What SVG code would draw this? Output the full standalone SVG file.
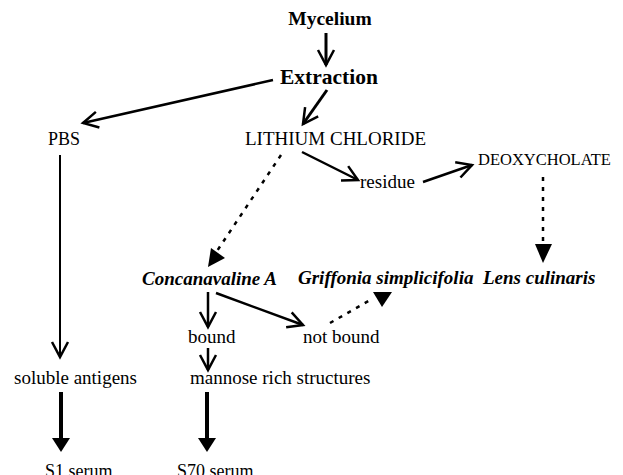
<svg xmlns="http://www.w3.org/2000/svg" width="623" height="475" viewBox="0 0 623 475">
<style>
text{font-family:"Liberation Serif","DejaVu Serif","Times New Roman",serif;fill:#000;font-size:19px}
.b{font-weight:bold}
.bi{font-weight:bold;font-style:italic}
.ln{fill:none;stroke:#000;stroke-width:2.5;marker-end:url(#v)}
.thin{fill:none;stroke:#000;stroke-width:2;marker-end:url(#v)}
.dot{fill:none;stroke:#000;stroke-width:2.5;stroke-dasharray:4 6}
.thick{fill:none;stroke:#000;stroke-width:4}
.tri{fill:#000}
</style>
<defs>
<marker id="v" markerUnits="userSpaceOnUse" viewBox="-20 -12 24 24" refX="0" refY="0" markerWidth="24" markerHeight="24" orient="auto" overflow="visible">
<path d="M-15,-8 L0,0 L-15,8" fill="none" stroke="#000" stroke-width="2.5" stroke-linejoin="miter"/>
</marker>
</defs>
<rect width="623" height="475" fill="#fff"/>
<g id="connectors">
<path class="ln" d="M326,33 L326,65" style="stroke-width:3"/>
<path class="ln" d="M327,90 L303,124" style="stroke-width:3"/>
<path class="ln" d="M273,80 L83,123"/>
<path class="ln" d="M302,152 L358,180"/>
<path class="ln" d="M423,182 L472,165"/>
<path class="dot" d="M543,177 L543,244"/>
<polygon class="tri" points="535,244 552,244 543,263"/>
<path class="dot" d="M281,155 L217,251"/>
<polygon class="tri" points="211,248 208,267 225,258"/>
<path class="thin" d="M60,155 L60,357"/>
<path class="thick" d="M61,392 L61,440"/>
<polygon class="tri" points="52,438 70,438 61,452"/>
<path class="ln" d="M208,292 L208,327"/>
<path class="ln" d="M216,293 L303,325"/>
<path class="dot" d="M330,323 L372,299"/>
<polygon class="tri" points="373,292 392,292 382,307"/>
<path class="ln" d="M208,348 L208,370"/>
<path class="thick" d="M207,392 L207,440"/>
<polygon class="tri" points="198,438 216,438 207,452"/>
</g>
<g id="n-mycelium"><text class="b" x="330" y="25" text-anchor="middle" style="font-size:19.5px">Mycelium</text></g>
<g id="n-extraction"><text class="b" x="329" y="84" text-anchor="middle" style="font-size:21.5px">Extraction</text></g>
<g id="n-pbs"><text x="64" y="145" text-anchor="middle" style="font-size:18px">PBS</text></g>
<g id="n-licl"><text x="245" y="145" style="font-size:19px">LITHIUM CHLORIDE</text></g>
<g id="n-residue"><text x="360" y="188">residue</text></g>
<g id="n-deoxy"><text x="478" y="165" style="font-size:16.5px">DEOXYCHOLATE</text></g>
<g id="n-cona"><text class="bi" x="142" y="285">Concanavaline A</text></g>
<g id="n-griffonia"><text class="bi" x="298" y="284">Griffonia simplicifolia</text></g>
<g id="n-lens"><text class="bi" x="483" y="284">Lens culinaris</text></g>
<g id="n-bound"><text x="188" y="343">bound</text></g>
<g id="n-notbound"><text x="303" y="343">not bound</text></g>
<g id="n-soluble"><text x="14" y="384">soluble antigens</text></g>
<g id="n-mannose"><text x="190" y="384">mannose rich structures</text></g>
<g id="n-s1"><text x="45" y="477" style="font-size:18px">S1 serum</text></g>
<g id="n-s70"><text x="177" y="477" style="font-size:18px">S70 serum</text></g>
</svg>
